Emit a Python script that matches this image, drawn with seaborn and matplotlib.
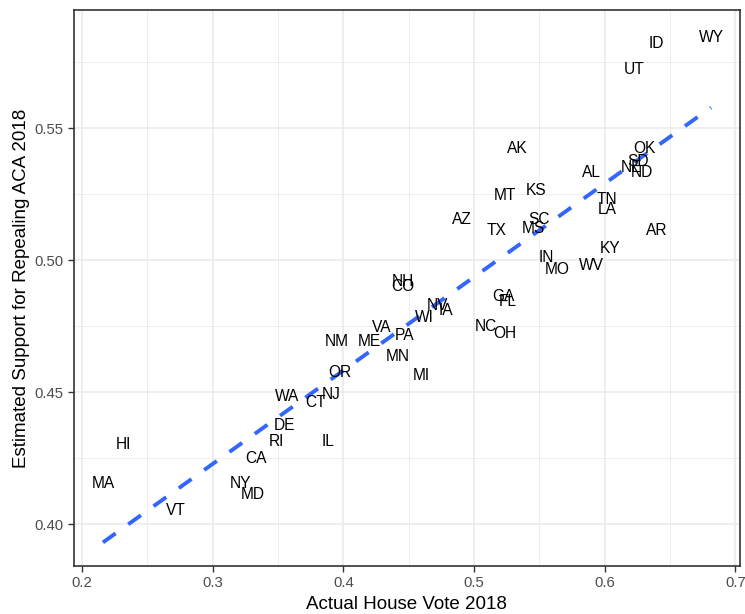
import matplotlib
matplotlib.use("Agg")
import matplotlib.pyplot as plt
import matplotlib.transforms as mtransforms
import seaborn as sns
import pandas as pd

states = ["WY", "ID", "UT", "OK", "SD", "NE", "ND", "AL", "TN", "LA",
          "AR", "KY", "WV", "AK", "MT", "KS", "AZ", "TX", "SC", "MS",
          "IN", "MO", "NH", "CO", "GA", "FL", "NV", "IA", "WI", "NC",
          "OH", "VA", "PA", "ME", "NM", "MN", "MI", "OR", "WA", "NJ",
          "CT", "DE", "RI", "IL", "HI", "CA", "MA", "NY", "MD", "VT"]
house_vote = [0.6813, 0.6392, 0.6224, 0.6301, 0.6255, 0.6201, 0.6285, 0.5895, 0.6018, 0.6018,
              0.6400, 0.6041, 0.5895, 0.5329, 0.5237, 0.5474, 0.4908, 0.5176, 0.5497, 0.5451,
              0.5551, 0.5635, 0.4457, 0.4457, 0.5222, 0.5260, 0.4717, 0.4786, 0.4617, 0.5092,
              0.5237, 0.4296, 0.4472, 0.4197, 0.3952, 0.4418, 0.4594, 0.3975, 0.3569, 0.3906,
              0.3791, 0.3546, 0.3485, 0.3883, 0.2320, 0.3332, 0.2161, 0.3217, 0.3309, 0.2720]
repeal_support = [0.5848, 0.5826, 0.5727, 0.5428, 0.5379, 0.5356, 0.5337, 0.5337, 0.5235, 0.5197,
                  0.5117, 0.5049, 0.4985, 0.5428, 0.5250, 0.5269, 0.5159, 0.5117, 0.5159, 0.5125,
                  0.5015, 0.4970, 0.4924, 0.4905, 0.4867, 0.4848, 0.4833, 0.4814, 0.4788, 0.4754,
                  0.4727, 0.4750, 0.4720, 0.4697, 0.4697, 0.4640, 0.4568, 0.4580, 0.4489, 0.4496,
                  0.4466, 0.4379, 0.4318, 0.4318, 0.4307, 0.4254, 0.4159, 0.4159, 0.4117, 0.4057]

x_ticks = [0.2, 0.3, 0.4, 0.5, 0.6, 0.7]
x_tick_labels = ["0.2", "0.3", "0.4", "0.5", "0.6", "0.7"]
y_ticks = [0.40, 0.45, 0.50, 0.55]
y_tick_labels = ["0.40", "0.45", "0.50", "0.55"]

df = pd.DataFrame({"state": states, "house": house_vote, "repeal": repeal_support})

sns.set_style("white")
plt.rcParams["font.family"] = ["Liberation Sans", "DejaVu Sans"]

fig = plt.figure(figsize=(7.45, 6.14), dpi=100)
ax = fig.add_axes([0.0987, 0.0782, 0.8946, 0.9055])

# minor and major grid lines
for v in [0.25, 0.35, 0.45, 0.55, 0.65]:
    ax.axvline(v, color="#EBEBEB", lw=0.6, zorder=0)
for v in [0.425, 0.475, 0.525, 0.575]:
    ax.axhline(v, color="#EBEBEB", lw=0.6, zorder=0)
for v in x_ticks:
    ax.axvline(v, color="#EBEBEB", lw=1.2, zorder=0)
for v in y_ticks:
    ax.axhline(v, color="#EBEBEB", lw=1.2, zorder=0)

# linear fit, dashed, without confidence band
sns.regplot(data=df, x="house", y="repeal", ax=ax, scatter=False, ci=None,
            line_kws=dict(color="#3366FF", lw=2.8, dashes=(4, 4), zorder=2))

# state abbreviations placed at each point
label_trans = mtransforms.offset_copy(ax.transData, fig=fig, x=0, y=-1.5, units="dots")
for s, xv, yv in zip(states, house_vote, repeal_support):
    ax.text(xv, yv, s, ha="center", va="center", fontsize=11.2, color="black",
            zorder=3, transform=label_trans)

ax.set_xlim(0.1936, 0.7035)
ax.set_ylim(0.3841, 0.5947)
ax.set_xticks(x_ticks)
ax.set_xticklabels(x_tick_labels)
ax.set_yticks(y_ticks)
ax.set_yticklabels(y_tick_labels)
ax.tick_params(axis="both", direction="out", length=4.5, width=1.0, color="#333333",
               labelsize=10.7, labelcolor="#4D4D4D", pad=3, bottom=True, left=True)
for sp in ax.spines.values():
    sp.set_visible(True)
    sp.set_color("#333333")
    sp.set_linewidth(1.2)

ax.set_xlabel("Actual House Vote 2018", fontsize=13.5, color="black", labelpad=4)
ax.set_ylabel("Estimated Support for Repealing ACA 2018", fontsize=13.5, color="black", labelpad=3)

fig.savefig("out.png", dpi=100)
